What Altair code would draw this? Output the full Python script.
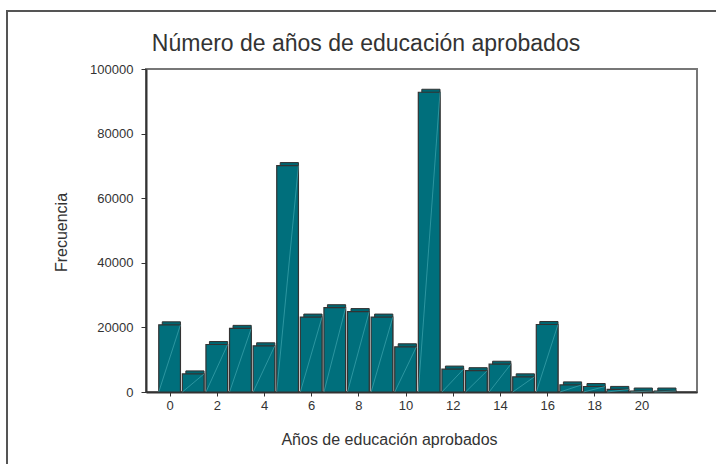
import altair as alt
import pandas as pd

years = list(range(22))
freq = [20800, 5600, 14700, 19700, 14300, 70100, 23200, 26100, 24900, 23200, 14000,
        92800, 7100, 6600, 8600, 4700, 20900, 2200, 1700, 800, 300, 300]
x_ticks = [0, 2, 4, 6, 8, 10, 12, 14, 16, 18, 20]
y_ticks = [0, 20000, 40000, 60000, 80000, 100000]
title_text = ["Número de años de educación aprobados"]

df = pd.DataFrame({"anio": years, "freq": freq})
df["x0"] = df["anio"] - 0.46
df["x1"] = df["anio"] + 0.46
df["zero"] = 0

xs = alt.Scale(domain=[-1.0, 22.35], nice=False, zero=False)
ys = alt.Scale(domain=[0, 100000], nice=False)

FONT = "Liberation Sans"
DARK = "#333333"

x_axis = alt.Axis(
    values=x_ticks, format="d", labelFontSize=13, labelColor=DARK, labelFont=FONT,
    tickSize=4, tickColor=DARK, labelPadding=3, domainColor=DARK, domainWidth=2,
    grid=False, title="Años de educación aprobados", titleFont=FONT,
    titleFontSize=16, titleFontWeight="normal", titleColor=DARK,
    titleX=243, titleY=52, titleBaseline="alphabetic", titleAlign="center",
)
y_axis = alt.Axis(
    values=y_ticks, format="d", labelFontSize=13, labelColor=DARK, labelFont=FONT,
    tickSize=5, tickColor=DARK, labelPadding=8, domainColor=DARK, domainWidth=2,
    grid=False, title="Frecuencia", titleFont=FONT, titleFontSize=16,
    titleFontWeight="normal", titleColor=DARK, titleX=-80, titleY=163,
    titleAngle=-90, titleAlign="center", titleBaseline="alphabetic",
)

base = alt.Chart(df)

back = base.mark_rect(color="#00646f", stroke=DARK, strokeWidth=1, xOffset=3.5, yOffset=-3).encode(
    x=alt.X("x0:Q", scale=xs, axis=x_axis),
    x2="x1:Q",
    y=alt.Y("freq:Q", scale=ys, axis=y_axis),
    y2="zero:Q",
)

front = base.mark_rect(color="#006f7c", stroke=DARK, strokeWidth=1.2).encode(
    x=alt.X("x0:Q", scale=xs, axis=x_axis),
    x2="x1:Q",
    y=alt.Y("freq:Q", scale=ys, axis=y_axis),
    y2="zero:Q",
)

shine = base.mark_rule(color="#4fb3bd", strokeWidth=0.8, opacity=0.7).encode(
    x=alt.X("x0:Q", scale=xs, axis=x_axis),
    x2="x1:Q",
    y=alt.Y("zero:Q", scale=ys, axis=y_axis),
    y2="freq:Q",
)

frame = alt.Chart(pd.DataFrame({"a": [0]})).mark_rect(
    fillOpacity=0, stroke="#555555", strokeWidth=2
).encode(
    x=alt.value(-139), x2=alt.value(700), y=alt.value(-58), y2=alt.value(500)
)

title = alt.Chart(pd.DataFrame({"t": title_text})).mark_text(
    font=FONT, fontSize=23, color=DARK, align="center", baseline="alphabetic"
).encode(text="t:N", x=alt.value(220), y=alt.value(-18))

chart = alt.layer(back, front, shine, frame, title).properties(
    width=551,
    height=323,
    background="white",
    autosize=alt.AutoSizeParams(type="none"),
    padding={"left": 146, "top": 69, "right": 19, "bottom": 72},
).configure_view(stroke="#777777", strokeWidth=2)

chart.save("out.html", embed_options={"renderer": "svg", "actions": False})
